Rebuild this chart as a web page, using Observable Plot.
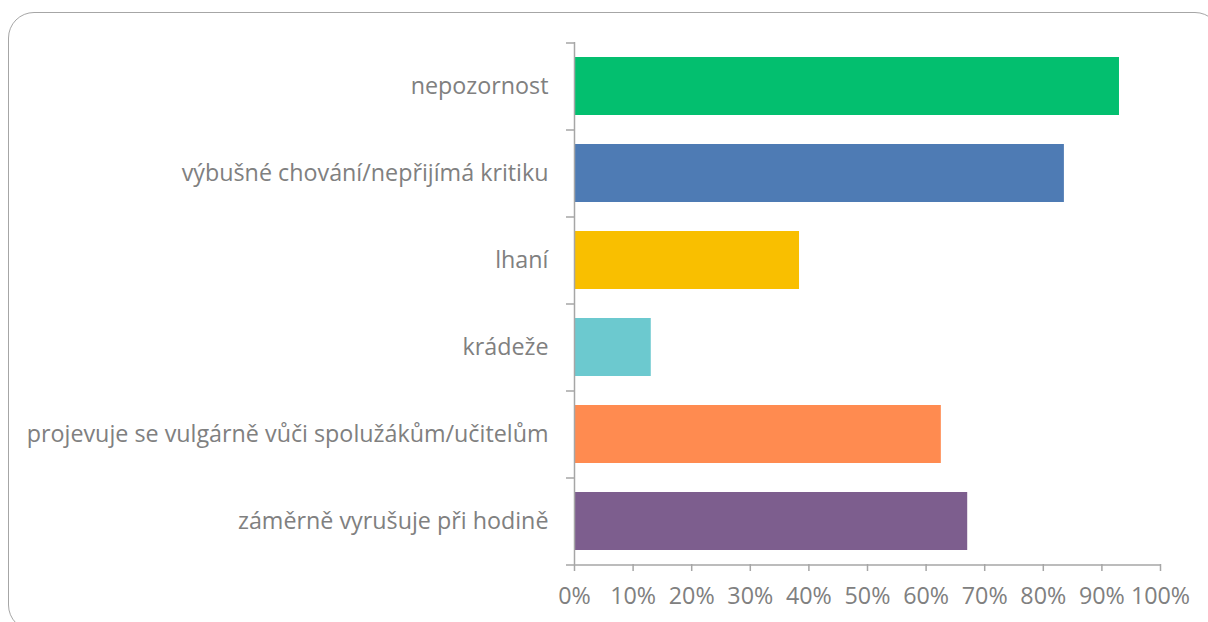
<!DOCTYPE html>
<html>
<head>
<meta charset="utf-8">
<script src="https://cdn.jsdelivr.net/npm/d3@7"></script>
<script src="https://cdn.jsdelivr.net/npm/@observablehq/plot@0.6"></script>
<style>
  html, body { margin: 0; padding: 0; background: #fff; }
  #wrap { position: relative; width: 1208px; height: 622px; overflow: hidden; }
  #frame { position: absolute; left: 8px; top: 12px; width: 1213px; height: 619px;
           border: 1.5px solid #a6a6a6; border-radius: 26px; box-sizing: border-box; }
  #chart { position: absolute; left: 0; top: 0; }
</style>
</head>
<body>
<div id="wrap"><div id="frame"></div><div id="chart"></div></div>
<script>
const categories = [
  "nepozornost",
  "výbušné chování/nepřijímá kritiku",
  "lhaní",
  "krádeže",
  "projevuje se vulgárně vůči spolužákům/učitelům",
  "záměrně vyrušuje při hodině"
];
const values = [93.0, 83.6, 38.4, 13.1, 62.6, 67.1];
const colors = ["#03bf6f", "#4e7bb4", "#f9bf00", "#6cc9cf", "#ff8b50", "#7d5e8e"];
const xTicks = [0, 10, 20, 30, 40, 50, 60, 70, 80, 90, 100];

const data = categories.map((c, i) => ({cat: c, value: values[i], color: colors[i]}));
const step = 87;
const gray = "#a6a6a6";
const textGray = "#808080";
const fontFamily = "'Open Sans', sans-serif";

// pick a font size so the longest label spans roughly the same width as in the reference
const ctx = document.createElement("canvas").getContext("2d");
ctx.font = `100px ${fontFamily}`;
const w100 = ctx.measureText(categories[4]).width;
const fs = Math.round(521 / w100 * 100 * 10) / 10;

const plot = Plot.plot({
  width: 1208,
  height: 622,
  marginLeft: 574,
  marginRight: 48,
  marginTop: 42,
  marginBottom: 58,
  style: {fontFamily, fontSize: fs + "px", color: textGray, background: "transparent"},
  x: {domain: [0, 100], label: null},
  y: {domain: categories, paddingInner: 1/3, paddingOuter: 1/6, label: null},
  marks: [
    Plot.barX(data, {y: "cat", x: "value", fill: "color"}),
    Plot.ruleY(categories, {y: d => d, x1: -1.37, x2: 0, dy: -step / 2, stroke: gray, strokeWidth: 1.5}),
    Plot.ruleY([categories[categories.length - 1]], {y: d => d, x1: -1.37, x2: 0, dy: step / 2, stroke: gray, strokeWidth: 1.5}),
    Plot.ruleX([0], {stroke: gray, strokeWidth: 1.5}),
    Plot.axisX({ticks: xTicks, tickFormat: d => d + "%", tickSize: 7, tickPadding: 16, stroke: gray, strokeWidth: 1.5, fill: textGray, label: null, fontSize: fs}),
    Plot.ruleY([categories[categories.length - 1]], {y: d => d, x1: 0, x2: 100, dy: step / 2, stroke: gray, strokeWidth: 1.5}),
    Plot.axisY({tickSize: 0, tickPadding: 26, fill: textGray, label: null, fontSize: fs})
  ]
});
document.getElementById("chart").appendChild(plot);
</script>
</body>
</html>
